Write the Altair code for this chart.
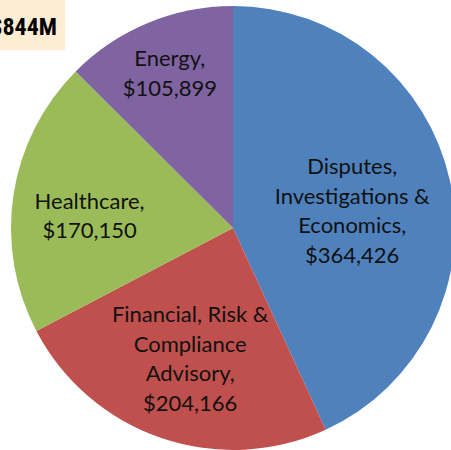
import altair as alt
import pandas as pd

categories = ["Disputes", "Financial", "Healthcare", "Energy"]
label_lines = [
    ["Disputes,", "Investigations &", "Economics,"],
    ["Financial, Risk &", "Compliance", "Advisory,"],
    ["Healthcare,"],
    ["Energy,"],
]
values = [364426, 204166, 170150, 105899]
colors = ["#4F81BD", "#C0504D", "#9BBB59", "#8064A2"]
total_label = "$844M"

df = pd.DataFrame({
    "cat": categories,
    "value": values,
    "idx": list(range(len(categories))),
    "label": ["\n".join(l + [f"${v:,}"]) for l, v in zip(label_lines, values)],
})

CX, CY, R = 233, 228, 222

pie = alt.Chart(df).mark_arc(outerRadius=R).encode(
    theta=alt.Theta("value:Q", stack=True),
    order=alt.Order("idx:Q"),
    x=alt.value(CX),
    y=alt.value(CY),
    color=alt.Color("cat:N", scale=alt.Scale(domain=categories, range=colors), legend=None),
)

label_base = alt.Chart(df).transform_joinaggregate(
    total="sum(value)"
).transform_window(
    cum="sum(value)", sort=[alt.SortField("idx")], frame=[None, 0]
).transform_calculate(
    mid="(datum.cum - datum.value / 2) / datum.total * 2 * PI"
)

label_cfg = {
    "Disputes": dict(radius=121, dx=1, dy=-35),
    "Financial": dict(radius=145, dx=4, dy=-50),
    "Healthcare": dict(radius=141, dx=-4, dy=-5),
    "Energy": dict(radius=162, dx=-1, dy=-19),
}

text_layers = []
for c in categories:
    cfg = label_cfg[c]
    t = label_base.transform_filter(alt.datum.cat == c).mark_text(
        font="Lato", fontSize=22, lineHeight=29.5, lineBreak="\n",
        align="center", baseline="middle", color="#111111",
        radius=cfg["radius"], dx=cfg["dx"], dy=cfg["dy"],
    ).encode(
        theta=alt.Theta("mid:Q", scale=None),
        x=alt.value(CX),
        y=alt.value(CY),
        text="label:N",
    )
    text_layers.append(t)

box = alt.Chart(df).mark_rect(color="#FDEDD3").encode(
    x=alt.value(0), x2=alt.value(65), y=alt.value(0), y2=alt.value(50)
)
box_text = alt.Chart(pd.DataFrame({"t": [total_label]})).mark_text(
    font="Liberation Sans Narrow, Arial Narrow, Roboto Condensed, Liberation Sans",
    fontSize=24, fontWeight="bold", align="right", baseline="alphabetic", color="black",
).encode(text="t:N", x=alt.value(57), y=alt.value(35))

chart = alt.layer(pie, *text_layers, box, box_text).properties(
    width=451, height=450, padding=0, autosize="none"
).configure_view(stroke=None)

chart.save("out.html", embed_options={"renderer": "svg", "actions": False})
